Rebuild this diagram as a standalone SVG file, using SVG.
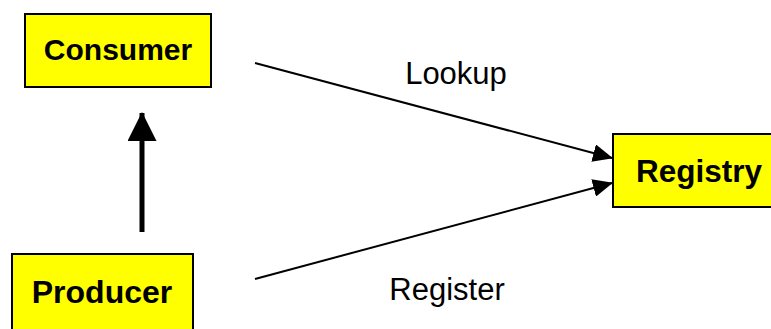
<svg xmlns="http://www.w3.org/2000/svg" width="771" height="329" viewBox="0 0 771 329">
  <style>
    .box { fill: #ffff00; stroke: #000; stroke-width: 2; }
    .node-label { font-family: "Liberation Sans", Arial, sans-serif; font-weight: bold; font-size: 30px; fill: #000; text-anchor: middle; }
    .edge-label { font-family: "Liberation Sans", Arial, sans-serif; font-size: 31px; fill: #000; text-anchor: middle; }
    .edge { stroke: #000; fill: none; stroke-width: 2; }
    .edge-thick { stroke: #000; fill: none; stroke-width: 5; }
  </style>
  <defs>
    <marker id="head" markerUnits="userSpaceOnUse" viewBox="0 0 20 18" refX="19" refY="9" markerWidth="20" markerHeight="18" orient="auto">
      <path d="M0,0 L20,9 L0,18 Z" fill="#000"/>
    </marker>
    <marker id="head-big" markerUnits="userSpaceOnUse" viewBox="0 0 29 29" refX="28" refY="14.5" markerWidth="29" markerHeight="29" orient="auto">
      <path d="M0,0 L29,14.5 L0,29 Z" fill="#000"/>
    </marker>
  </defs>

  <g id="connectors">
    <line class="edge-thick" x1="142" y1="232" x2="142" y2="113" marker-end="url(#head-big)"/>
    <line class="edge" x1="255" y1="63" x2="612" y2="158" marker-end="url(#head)"/>
    <text class="edge-label" x="456" y="84">Lookup</text>
    <line class="edge" x1="255" y1="279" x2="612" y2="183" marker-end="url(#head)"/>
    <text class="edge-label" x="447" y="300">Register</text>
  </g>

  <g id="consumer">
    <rect class="box" x="25" y="14" width="186" height="73"/>
    <text class="node-label" x="118" y="60">Consumer</text>
  </g>

  <g id="producer">
    <rect class="box" x="12" y="254" width="181" height="85"/>
    <text class="node-label" x="102" y="303" style="font-size:32px">Producer</text>
  </g>

  <g id="registry">
    <rect class="box" x="613" y="134" width="170" height="73"/>
    <text class="node-label" x="699" y="182" style="font-size:31.5px">Registry</text>
  </g>
</svg>
